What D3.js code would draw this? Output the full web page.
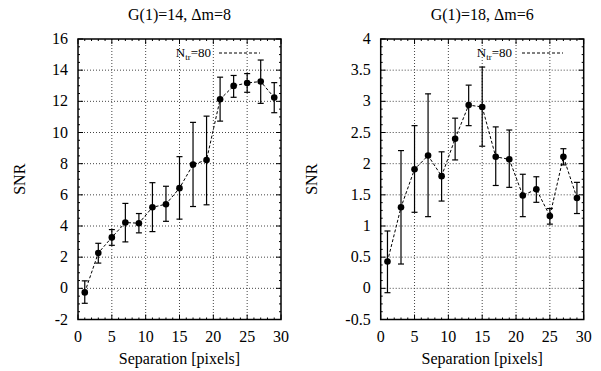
<!DOCTYPE html>
<html>
  <head>
    <meta charset="utf-8">
    <script src="https://cdn.jsdelivr.net/npm/d3@7"></script>
  </head>
  <body style="margin:0; background:#fff">
    <div id="chart"></div>

    <script>
      // ========= Data ========= //
      const separation = [1, 3, 5, 7, 9, 11, 13, 15, 17, 19, 21, 23, 25, 27, 29];

      const snrLeft  = [-0.26, 2.27, 3.27, 4.22, 4.18, 5.2, 5.4, 6.43, 7.94, 8.24, 12.13, 12.99, 13.18, 13.27, 12.24];
      const lowLeft  = [-0.96, 1.62, 2.76, 2.98, 3.56, 3.64, 4.3, 4.44, 5.25, 5.36, 10.73, 12.26, 12.58, 11.87, 11.27];
      const highLeft = [0.48, 2.89, 3.77, 5.45, 4.8, 6.78, 6.55, 8.45, 10.65, 11.05, 13.55, 13.66, 13.78, 14.65, 13.2];

      const snrRight  = [0.43, 1.3, 1.91, 2.13, 1.8, 2.4, 2.94, 2.91, 2.11, 2.07, 1.49, 1.59, 1.16, 2.11, 1.45];
      const lowRight  = [-0.07, 0.39, 1.22, 1.15, 1.4, 2.06, 2.61, 2.28, 1.65, 1.62, 1.15, 1.38, 1.03, 1.98, 1.2];
      const highRight = [0.92, 2.21, 2.61, 3.12, 2.19, 2.73, 3.26, 3.55, 2.59, 2.54, 1.83, 1.79, 1.28, 2.24, 1.7];

      const xTicks = [0, 5, 10, 15, 20, 25, 30];
      const yTicksLeft = [-2, 0, 2, 4, 6, 8, 10, 12, 14, 16];
      const yTicksRight = [-0.5, 0, 0.5, 1, 1.5, 2, 2.5, 3, 3.5, 4];

      const titles = ['G(1)=14, \u0394m=8', 'G(1)=18, \u0394m=6'];

      // ========= Setup ========= //
      const width = 601;
      const height = 371;
      const font = '"Liberation Serif"';

      const svg = d3.select('#chart').append('svg')
        .attr('width', width)
        .attr('height', height);

      const panels = [
        {
          title: titles[0], snr: snrLeft, low: lowLeft, high: highLeft,
          yDomain: [-2, 16], yTicks: yTicksLeft, yMinor: 0.5,
          x0: 78, x1: 281, top: 39, bottom: 319.5,
          snrX: 25, legendEnd: 211, lineStart: 219, lineEnd: 260
        },
        {
          title: titles[1], snr: snrRight, low: lowRight, high: highRight,
          yDomain: [-0.5, 4], yTicks: yTicksRight, yMinor: 0.125,
          x0: 380.7, x1: 583.7, top: 39, bottom: 319.5,
          snrX: 317, legendEnd: 512, lineStart: 522, lineEnd: 563
        }
      ];

      panels.forEach(p => drawPanel(p));

      function drawPanel(p) {
        const x = d3.scaleLinear().domain([0, 30]).range([p.x0, p.x1]);
        const y = d3.scaleLinear().domain(p.yDomain).range([p.bottom, p.top]);

        const g = svg.append('g');

        // ========= Grid ========= //
        g.append('g').selectAll('line')
          .data(xTicks.slice(1, -1))
          .join('line')
            .attr('x1', d => x(d)).attr('x2', d => x(d))
            .attr('y1', p.top).attr('y2', p.bottom)
            .attr('stroke', '#444').attr('stroke-width', 1)
            .attr('stroke-dasharray', '1,2');

        g.append('g').selectAll('line')
          .data(p.yTicks.slice(1, -1))
          .join('line')
            .attr('x1', p.x0).attr('x2', p.x1)
            .attr('y1', d => y(d)).attr('y2', d => y(d))
            .attr('stroke', '#444').attr('stroke-width', 1)
            .attr('stroke-dasharray', '1,2');

        // ========= Ticks (inward, mirrored) ========= //
        const xMinor = d3.range(0, 30.01, 1);
        const yMinor = d3.range(p.yDomain[0], p.yDomain[1] + 1e-6, p.yMinor);
        const tickG = g.append('g').attr('stroke', '#000').attr('stroke-width', 1);

        xMinor.forEach(d => {
          const len = xTicks.includes(d) ? 5 : 2;
          tickG.append('line').attr('x1', x(d)).attr('x2', x(d)).attr('y1', p.bottom).attr('y2', p.bottom - len);
          tickG.append('line').attr('x1', x(d)).attr('x2', x(d)).attr('y1', p.top).attr('y2', p.top + len);
        });
        yMinor.forEach(d => {
          const major = p.yTicks.some(t => Math.abs(t - d) < 1e-6);
          const len = major ? 5 : 2;
          tickG.append('line').attr('x1', p.x0).attr('x2', p.x0 + len).attr('y1', y(d)).attr('y2', y(d));
          tickG.append('line').attr('x1', p.x1).attr('x2', p.x1 - len).attr('y1', y(d)).attr('y2', y(d));
        });

        // ========= Tick labels ========= //
        g.append('g').selectAll('text')
          .data(xTicks)
          .join('text')
            .attr('x', d => x(d))
            .attr('y', 342)
            .attr('text-anchor', 'middle')
            .attr('font-size', 16)
            .style('font-family', font)
            .text(d => d);

        g.append('g').selectAll('text')
          .data(p.yTicks)
          .join('text')
            .attr('x', p.x0 - 10)
            .attr('y', d => y(d) + 5)
            .attr('text-anchor', 'end')
            .attr('font-size', 16)
            .style('font-family', font)
            .text(d => d);

        // ========= Titles / labels ========= //
        g.append('text')
          .attr('x', (p.x0 + p.x1) / 2)
          .attr('y', 20)
          .attr('text-anchor', 'middle')
          .attr('font-size', 16)
          .style('font-family', font)
          .text(p.title);

        g.append('text')
          .attr('x', (p.x0 + p.x1) / 2)
          .attr('y', 364)
          .attr('text-anchor', 'middle')
          .attr('font-size', 16)
          .style('font-family', font)
          .text('Separation [pixels]');

        g.append('text')
          .attr('transform', `translate(${p.snrX},${(p.top + p.bottom) / 2}) rotate(-90)`)
          .attr('text-anchor', 'middle')
          .attr('font-size', 16)
          .style('font-family', font)
          .text('SNR');

        // ========= Legend ========= //
        const leg = g.append('text')
          .attr('x', p.legendEnd)
          .attr('y', 57)
          .attr('text-anchor', 'end')
          .attr('font-size', 13)
          .style('font-family', font);
        leg.append('tspan').text('N');
        leg.append('tspan').attr('font-size', 9).attr('dy', 3).text('tr');
        leg.append('tspan').attr('dy', -3).text('=80');

        g.append('line')
          .attr('x1', p.lineStart).attr('x2', p.lineEnd)
          .attr('y1', 53).attr('y2', 53)
          .attr('stroke', '#000').attr('stroke-width', 1)
          .attr('stroke-dasharray', '3,2');

        // ========= Data ========= //
        const rows = separation.map((s, i) => ({ s, v: p.snr[i], lo: p.low[i], hi: p.high[i] }));

        const line = d3.line()
          .x(d => x(d.s))
          .y(d => y(d.v));

        g.append('path')
          .datum(rows)
          .attr('d', line)
          .attr('fill', 'none')
          .attr('stroke', '#000')
          .attr('stroke-width', 1)
          .attr('stroke-dasharray', '3,2');

        const bars = g.append('g').attr('stroke', '#000').attr('stroke-width', 1.2);
        bars.selectAll('line.v')
          .data(rows)
          .join('line')
            .attr('class', 'v')
            .attr('x1', d => x(d.s)).attr('x2', d => x(d.s))
            .attr('y1', d => y(d.lo)).attr('y2', d => y(d.hi));
        bars.selectAll('line.lo')
          .data(rows)
          .join('line')
            .attr('class', 'lo')
            .attr('x1', d => x(d.s) - 3).attr('x2', d => x(d.s) + 3)
            .attr('y1', d => y(d.lo)).attr('y2', d => y(d.lo));
        bars.selectAll('line.hi')
          .data(rows)
          .join('line')
            .attr('class', 'hi')
            .attr('x1', d => x(d.s) - 3).attr('x2', d => x(d.s) + 3)
            .attr('y1', d => y(d.hi)).attr('y2', d => y(d.hi));

        g.append('g').selectAll('circle')
          .data(rows)
          .join('circle')
            .attr('cx', d => x(d.s))
            .attr('cy', d => y(d.v))
            .attr('r', 3.3)
            .attr('fill', '#000');

        // ========= Frame ========= //
        g.append('rect')
          .attr('x', p.x0).attr('y', p.top)
          .attr('width', p.x1 - p.x0).attr('height', p.bottom - p.top)
          .attr('fill', 'none')
          .attr('stroke', '#000')
          .attr('stroke-width', 1.5);
      }
    </script>
  </body>
</html>
